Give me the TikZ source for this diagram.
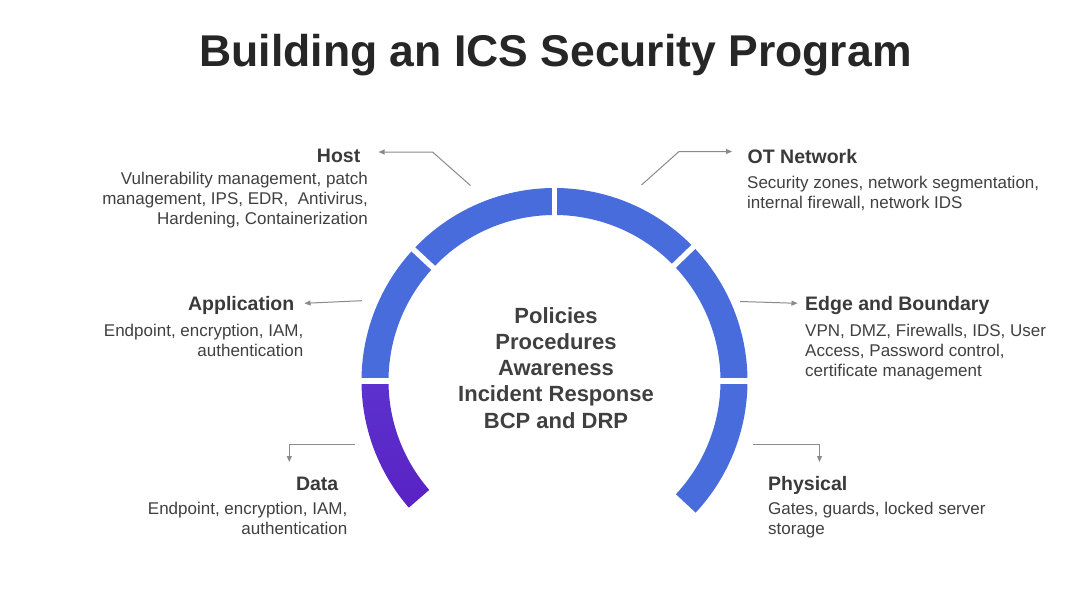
\documentclass[tikz,border=0pt]{standalone}
\usepackage{fontspec}
\setmainfont{Liberation Sans}
\usetikzlibrary{arrows.meta,calc}
\definecolor{segblue}{HTML}{486CDC}
\definecolor{segpurpleA}{HTML}{5C32CD}
\definecolor{segpurpleB}{HTML}{5A22C4}
\definecolor{titlecol}{HTML}{262626}
\definecolor{headcol}{HTML}{3A3A3A}
\definecolor{bodycol}{HTML}{404040}
\definecolor{linecol}{HTML}{8A8A8A}
\newcommand{\icsseg}[3]{\path[#1] ($(c)+(#2:193)$) arc[start angle=#2,end angle=#3,radius=193] -- ($(c)+(#3:166)$) arc[start angle=#3,end angle=#2,radius=166] -- cycle;}
\begin{document}
\begin{tikzpicture}[x=1pt,y=1pt,
  titletext/.style={font=\fontsize{44.5}{50}\selectfont\bfseries, text=titlecol, inner sep=0},
  headtext/.style={font=\fontsize{19.5}{22}\selectfont\bfseries, text=headcol, inner sep=0},
  bodytext/.style={font=\fontsize{17}{20}\selectfont, text=bodycol, inner sep=0},
  coretext/.style={font=\fontsize{22}{26.2}\selectfont\bfseries, text=bodycol, inner sep=0, align=center},
  link/.style={draw=linecol, line width=1pt, -{Triangle[length=6pt,width=5pt]}},
  gapline/.style={draw=white, line width=5.5pt}]
\useasboundingbox (0,0) rectangle (1088,-608);
\fill[white] (0,0) rectangle (1088,-608);
\coordinate (c) at (554.5,-381);
% ring segments
\icsseg{fill=segblue}{-43}{0}
\icsseg{fill=segblue}{0}{44}
\icsseg{fill=segblue}{44}{90}
\icsseg{fill=segblue}{90}{137}
\icsseg{fill=segblue}{137}{180}
\icsseg{top color=segpurpleA,bottom color=segpurpleB}{180}{221}
\foreach \a in {0,44,90,137,180}{\draw[gapline] ($(c)+(\a:158)$) -- ($(c)+(\a:201)$);}
% title
\node[titletext, anchor=base] (title) at (555.5,-66.7) {Building an ICS Security Program};
% center text (anchor = baseline of last line)
\node[coretext, anchor=base] (core) at (556,-428) {Policies\\Procedures\\Awareness\\Incident Response\\BCP and DRP};
% headings
\node[headtext, anchor=base east] (hostH) at (360.5,-162) {Host};
\node[headtext, anchor=base west] (otH) at (747.5,-163.7) {OT Network};
\node[headtext, anchor=base east] (appH) at (294.5,-310) {Application};
\node[headtext, anchor=base west] (edgeH) at (805,-310) {Edge and Boundary};
\node[headtext, anchor=base east] (dataH) at (338.5,-490) {Data};
\node[headtext, anchor=base west] (physH) at (768,-490) {Physical};
% bodies (anchor = baseline of last line)
\node[bodytext, align=right, anchor=base east] (hostB) at (368,-224.5) {Vulnerability management, patch\\management, IPS, EDR,\ \ Antivirus,\\Hardening, Containerization};
\node[bodytext, align=left, anchor=base west] (otB) at (747,-208) {Security zones, network segmentation,\\internal firewall, network IDS};
\node[bodytext, align=right, anchor=base east] (appB) at (303.5,-356.5) {Endpoint, encryption, IAM,\\authentication};
\node[bodytext, align=left, anchor=base west] (edgeB) at (805,-376.5) {VPN, DMZ, Firewalls, IDS, User\\Access, Password control,\\certificate management};
\node[bodytext, align=right, anchor=base east] (dataB) at (347.5,-534.5) {Endpoint, encryption, IAM,\\authentication};
\node[bodytext, align=left, anchor=base west] (physB) at (768,-534.5) {Gates, guards, locked server\\storage};
% connectors
\coordinate (hostS) at (470.5,-185.5);
\coordinate (hostK) at (432.5,-152);
\coordinate (hostT) at (378.5,-152);
\draw[link] (hostS) -- (hostK) -- (hostT);
\coordinate (otS) at (641.5,-185);
\coordinate (otK) at (679,-151.5);
\coordinate (otT) at (732,-151.5);
\draw[link] (otS) -- (otK) -- (otT);
\coordinate (appS) at (362,-300.7);
\coordinate (appT) at (304.5,-303.3);
\draw[link] (appS) -- (appT);
\coordinate (edgeS) at (740,-301.5);
\coordinate (edgeT) at (797.5,-303.3);
\draw[link] (edgeS) -- (edgeT);
\coordinate (dataS) at (355,-444);
\coordinate (dataK) at (289.3,-444);
\coordinate (dataT) at (289.3,-462);
\draw[link] (dataS) -- (dataK) -- (dataT);
\coordinate (physS) at (753,-444);
\coordinate (physK) at (819.5,-444);
\coordinate (physT) at (819.5,-462);
\draw[link] (physS) -- (physK) -- (physT);
\end{tikzpicture}
\end{document}
